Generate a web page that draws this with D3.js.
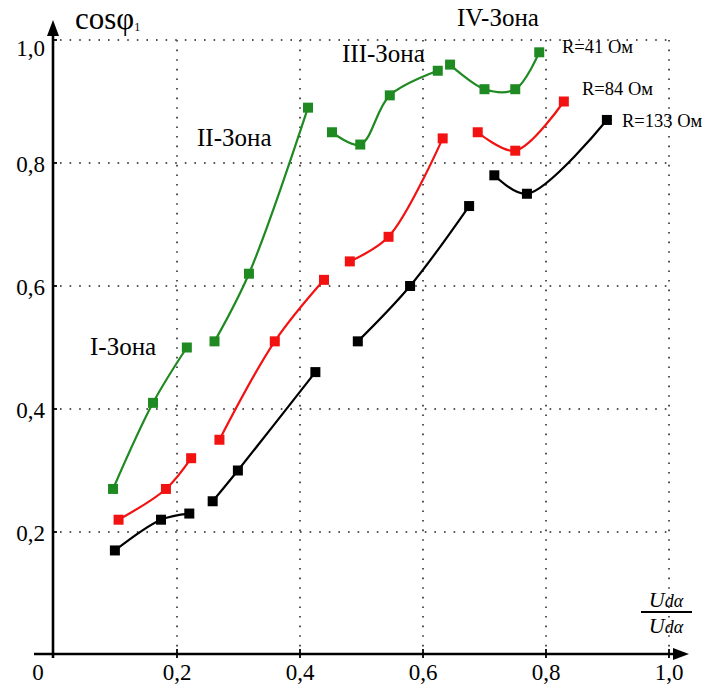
<!DOCTYPE html>
<html>
<head>
<meta charset="utf-8">
<script src="https://cdn.jsdelivr.net/npm/d3@7/dist/d3.min.js"></script>
<style>
  html, body { margin: 0; padding: 0; background: #fff; }
  svg { display: block; }
</style>
</head>
<body>
<svg id="chart" width="704" height="690"></svg>
<script>
// Tick values and their printed labels
const xTicks = [0.2, 0.4, 0.6, 0.8, 1.0];
const yTicks = [0.2, 0.4, 0.6, 0.8, 1.0];
const tickLabels = ["0,2", "0,4", "0,6", "0,8", "1,0"];

// Zone captions and the resistance of each curve family
const zoneNames = ["I-Зона", "II-Зона", "III-Зона", "IV-Зона"];
const seriesNames = ["R=41 Ом", "R=84 Ом", "R=133 Ом"];

// cosφ1 vs Udα/Udα, one sub-array per zone (I..IV), points as [x, y]
const r41 = [
  [[0.096, 0.270], [0.161, 0.410], [0.216, 0.500]],
  [[0.261, 0.510], [0.317, 0.620], [0.413, 0.890]],
  [[0.452, 0.850], [0.498, 0.830], [0.546, 0.910], [0.624, 0.950]],
  [[0.644, 0.960], [0.700, 0.920], [0.750, 0.920], [0.789, 0.980]]
];
const r84 = [
  [[0.105, 0.220], [0.182, 0.270], [0.223, 0.320]],
  [[0.269, 0.350], [0.359, 0.510], [0.439, 0.610]],
  [[0.481, 0.640], [0.544, 0.680], [0.632, 0.840]],
  [[0.689, 0.850], [0.750, 0.820], [0.829, 0.900]]
];
const r133 = [
  [[0.099, 0.170], [0.174, 0.220], [0.220, 0.230]],
  [[0.258, 0.250], [0.299, 0.300], [0.425, 0.460]],
  [[0.494, 0.510], [0.579, 0.600], [0.675, 0.730]],
  [[0.716, 0.780], [0.769, 0.750], [0.899, 0.870]]
];

const series = [
  { name: seriesNames[0], color: "#1f8a22", zones: r41 },
  { name: seriesNames[1], color: "#f21212", zones: r84 },
  { name: seriesNames[2], color: "#000000", zones: r133 }
];

const FONT = "'Liberation Serif', 'DejaVu Serif', serif";
const svg = d3.select("#chart").attr("font-family", FONT);
const x = d3.scaleLinear().domain([0, 1]).range([54, 669]);
const y = d3.scaleLinear().domain([0, 1]).range([655, 40]);
const axisY = y(0) - 1;
const axisX = x(0) - 1;

// Dotted grid
const grid = svg.append("g")
  .attr("stroke", "#555")
  .attr("stroke-width", 2)
  .attr("stroke-dasharray", "1.6,8")
  .attr("fill", "none");
grid.selectAll("line.h").data(yTicks).join("line")
  .attr("class", "h")
  .attr("x1", axisX + 7).attr("x2", x(1))
  .attr("y1", d => y(d)).attr("y2", d => y(d));
grid.selectAll("line.v").data(xTicks).join("line")
  .attr("class", "v")
  .attr("x1", d => x(d)).attr("x2", d => x(d))
  .attr("y1", y(1)).attr("y2", axisY - 6);

// Axes with arrows
const axes = svg.append("g").attr("stroke", "#000").attr("stroke-width", 2.6);
axes.append("line").attr("x1", 34).attr("x2", 678).attr("y1", axisY).attr("y2", axisY);
axes.append("line").attr("x1", axisX).attr("x2", axisX).attr("y1", axisY + 4).attr("y2", 32);
svg.append("path")
  .attr("d", `M${axisX},20 L${axisX - 6},36 L${axisX + 6},36 Z`)
  .attr("fill", "#000");
svg.append("path")
  .attr("d", `M689,${axisY} L673,${axisY - 6} L673,${axisY + 6} Z`)
  .attr("fill", "#000");

// Small tick marks on both axes
axes.selectAll("line.tx").data(xTicks).join("line")
  .attr("class", "tx")
  .attr("stroke-width", 1.8)
  .attr("x1", d => x(d)).attr("x2", d => x(d))
  .attr("y1", axisY - 5).attr("y2", axisY + 4);
axes.selectAll("line.ty").data(yTicks).join("line")
  .attr("class", "ty")
  .attr("stroke-width", 1.8)
  .attr("x1", axisX).attr("x2", axisX + 4)
  .attr("y1", d => y(d)).attr("y2", d => y(d));

// Tick labels
svg.append("g").selectAll("text").data(xTicks).join("text")
  .attr("x", d => x(d)).attr("y", 680)
  .attr("text-anchor", "middle")
  .attr("font-size", 23)
  .text((d, i) => tickLabels[i]);
svg.append("text").attr("x", 38).attr("y", 680)
  .attr("text-anchor", "middle").attr("font-size", 23).text("0");
svg.append("g").selectAll("text").data(yTicks).join("text")
  .attr("x", 45).attr("y", d => y(d) + (d === 1 ? 16 : 9))
  .attr("text-anchor", "end")
  .attr("font-size", 23)
  .text((d, i) => tickLabels[i]);

// Axis titles
const yt = svg.append("text").attr("x", 75).attr("y", 29).attr("font-size", 31);
yt.append("tspan").text("cosφ");
yt.append("tspan").attr("font-size", 12).attr("dy", 2).text("1");

const xt = svg.append("g").attr("font-style", "italic").attr("font-size", 22).attr("text-anchor", "middle");
xt.append("text").attr("x", 666).attr("y", 607)
  .html('U<tspan font-size="18">dα</tspan>');
xt.append("text").attr("x", 666).attr("y", 633)
  .html('U<tspan font-size="18">dα</tspan>');
svg.append("line").attr("x1", 641).attr("x2", 692).attr("y1", 612).attr("y2", 612)
  .attr("stroke", "#000").attr("stroke-width", 2);

// Curves and markers
const line = d3.line()
  .x(d => x(d[0])).y(d => y(d[1]))
  .curve(d3.curveCatmullRom.alpha(0.5));

series.forEach(s => {
  const g = svg.append("g");
  g.selectAll("path").data(s.zones).join("path")
    .attr("d", line)
    .attr("fill", "none")
    .attr("stroke", s.color)
    .attr("stroke-width", 2.2);
  const pts = s.zones.flat();
  const m = 10;
  g.selectAll("rect").data(pts).join("rect")
    .attr("x", d => x(d[0]) - m / 2).attr("y", d => y(d[1]) - m / 2)
    .attr("width", m).attr("height", m)
    .attr("fill", s.color);
});

// Series labels next to the last point of each family
const labelPos = [[562, 53], [582, 95], [622, 127]];
svg.append("g").selectAll("text").data(seriesNames).join("text")
  .attr("x", (d, i) => labelPos[i][0]).attr("y", (d, i) => labelPos[i][1])
  .attr("font-size", 18.5)
  .text(d => d);

// Zone captions
const zonePos = [[90, 355], [197, 146], [342, 62], [457, 26]];
svg.append("g").selectAll("text").data(zoneNames).join("text")
  .attr("x", (d, i) => zonePos[i][0]).attr("y", (d, i) => zonePos[i][1])
  .attr("font-size", 25)
  .text(d => d);
</script>
</body>
</html>
